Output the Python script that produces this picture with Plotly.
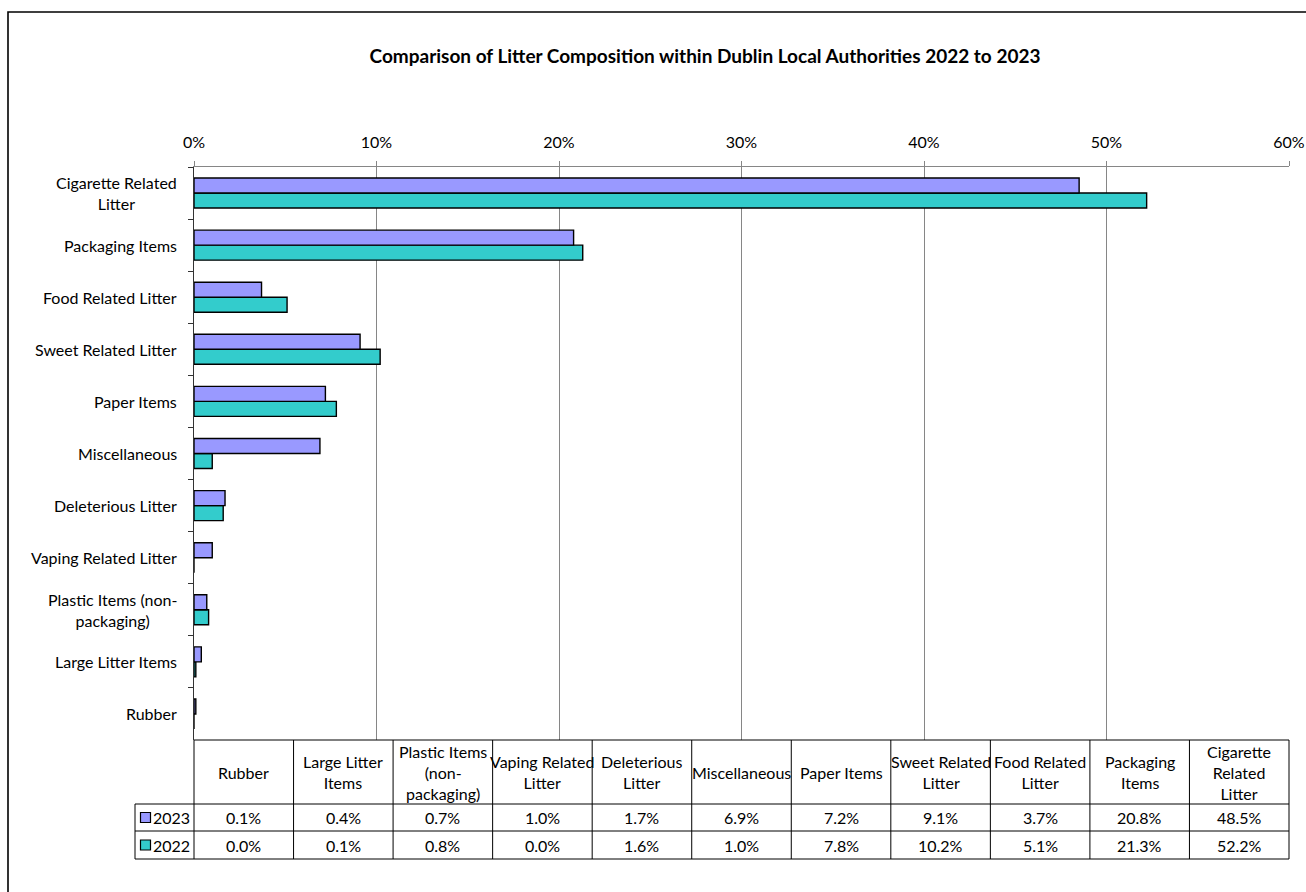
import plotly.graph_objects as go

W, H = 1306, 892
FONT = "Lato"
FS = 16

# ---------------- data ----------------
categories = [
    "Rubber", "Large Litter Items", "Plastic Items (non-packaging)",
    "Vaping Related Litter", "Deleterious Litter", "Miscellaneous",
    "Paper Items", "Sweet Related Litter", "Food Related Litter",
    "Packaging Items", "Cigarette Related Litter",
]
axis_labels = [
    "Rubber", "Large Litter Items", "Plastic Items (non-<br>packaging)",
    "Vaping Related Litter", "Deleterious Litter", "Miscellaneous",
    "Paper Items", "Sweet Related Litter", "Food Related Litter",
    "Packaging Items", "Cigarette Related<br>Litter",
]
table_labels = [
    "Rubber", "Large Litter<br>Items", "Plastic Items<br>(non-<br>packaging)",
    "Vaping Related<br>Litter", "Deleterious<br>Litter", "Miscellaneous",
    "Paper Items", "Sweet Related<br>Litter", "Food Related<br>Litter",
    "Packaging<br>Items", "Cigarette<br>Related<br>Litter",
]
values_2023 = [0.1, 0.4, 0.7, 1.0, 1.7, 6.9, 7.2, 9.1, 3.7, 20.8, 48.5]
values_2022 = [0.0, 0.1, 0.8, 0.0, 1.6, 1.0, 7.8, 10.2, 5.1, 21.3, 52.2]
series_names = ["2023", "2022"]
series_colors = ["#9999FF", "#33CCCC"]
x_ticks = [0, 10, 20, 30, 40, 50, 60]
grid_ticks = [10, 20, 30, 40, 50]
title_text = "Comparison of Litter Composition within Dublin Local Authorities 2022 to 2023"

# ---------------- layout geometry (pixels) ----------------
PL, PR, PT, PB = 194, 1289, 167, 740        # plot area
TL, TB = 135, 859                            # table left / bottom
HEAD_B, ROW1_B = 804, 831                    # header bottom, first row bottom
PAD = 4


def fx(p):
    return p / W


def fy(p):
    return 1 - p / H


ncat = len(categories)
col_px = (PR - PL) / ncat
leg_col = -0.5 - (PL - TL) / col_px
padc = PAD / col_px

fig = go.Figure()

# bars (2022 first so it sits below 2023 in each group)
for name, vals, col in [(series_names[1], values_2022, series_colors[1]),
                        (series_names[0], values_2023, series_colors[0])]:
    fig.add_trace(go.Bar(
        y=categories, x=vals, orientation="h", name=name,
        marker=dict(color=col, line=dict(color="#000000", width=1.4)),
        xaxis="x", yaxis="y", hoverinfo="x+y+name",
    ))

# empty trace for gridline overlay axis
fig.add_trace(go.Scatter(x=[None], y=[None], xaxis="x3", yaxis="y",
                         showlegend=False, hoverinfo="skip"))

shapes = []
annotations = []

# y category labels (centred multi-line)
for cat, lab in zip(categories, axis_labels):
    annotations.append(dict(
        x=fx(179), xref="paper", xanchor="right", y=cat, yref="y",
        yanchor="middle", text=lab, align="center", showarrow=False,
        font=dict(size=FS, color="#000000"),
    ))

# ---------------- data table ----------------
line = dict(color="#000000", width=1)
row_ys = [(HEAD_B + ROW1_B) / 2, (ROW1_B + TB) / 2]
# horizontals
shapes.append(dict(type="line", xref="x2", yref="y2", x0=-0.5, x1=ncat - 0.5,
                   y0=PB, y1=PB, line=line))
for yy in [HEAD_B, ROW1_B, TB]:
    shapes.append(dict(type="line", xref="x2", yref="y2", x0=leg_col,
                       x1=ncat - 0.5, y0=yy, y1=yy, line=line))
# verticals
shapes.append(dict(type="line", xref="x2", yref="y2", x0=leg_col, x1=leg_col,
                   y0=HEAD_B, y1=TB, line=line))
for k in range(ncat + 1):
    shapes.append(dict(type="line", xref="x2", yref="y2", x0=k - 0.5,
                       x1=k - 0.5, y0=PB, y1=TB, line=line))

for i, lab in enumerate(table_labels):
    annotations.append(dict(
        x=i, xref="x2", y=(PB + HEAD_B) / 2, yref="y2", text=lab,
        align="center", showarrow=False, xanchor="center", yanchor="middle",
        font=dict(size=FS, color="#000000"),
    ))
for vals, yy in [(values_2023, row_ys[0]), (values_2022, row_ys[1])]:
    for i, v in enumerate(vals):
        annotations.append(dict(
            x=i, xref="x2", y=yy, yref="y2", text=f"{v:.1f}%",
            showarrow=False, xanchor="center", yanchor="middle",
            font=dict(size=FS, color="#000000"),
        ))

# legend keys in table
sq_x = leg_col + (145.5 - TL) / col_px
txt_x = leg_col + (151 - TL) / col_px
for name, col, yy in zip(series_names, series_colors, row_ys):
    fig.add_trace(go.Scatter(
        x=[sq_x], y=[yy], xaxis="x2", yaxis="y2", mode="markers",
        marker=dict(symbol="square", size=10, color=col,
                    line=dict(color="#000000", width=1.2)),
        cliponaxis=False, showlegend=False, hoverinfo="skip",
    ))
    annotations.append(dict(
        x=txt_x, xref="x2", y=yy, yref="y2", text=name, showarrow=False,
        xanchor="left", yanchor="middle", font=dict(size=FS, color="#000000"),
    ))

# outer chart border
shapes.append(dict(type="rect", xref="paper", yref="paper",
                   x0=fx(8), x1=fx(1330), y0=fy(920), y1=fy(12),
                   line=dict(color="#000000", width=1.6), layer="above"))

fig.update_layout(
    width=W, height=H,
    margin=dict(l=0, r=0, t=0, b=0, autoexpand=False),
    paper_bgcolor="#ffffff", plot_bgcolor="rgba(0,0,0,0)",
    template="none",
    font=dict(family=FONT, size=FS, color="#000000"),
    showlegend=False,
    barmode="group", bargap=0.424, bargroupgap=0,
    title=dict(text=title_text, x=705 / W, xanchor="center",
               y=fy(56), yanchor="middle",
               font=dict(family=FONT, size=19, color="#000000", weight="bold")),
    xaxis=dict(
        domain=[fx(PL), fx(PR)], anchor="y", side="top", range=[0, 60],
        tickvals=x_ticks, ticktext=[f"{t}%" for t in x_ticks],
        ticks="outside", ticklen=5, tickcolor="#868686", tickwidth=1,
        ticklabelstandoff=7,
        showline=True, linecolor="#868686", linewidth=1,
        showgrid=False, zeroline=False, fixedrange=True,
        tickfont=dict(size=FS, color="#000000"),
    ),
    xaxis3=dict(
        overlaying="x", anchor="y", side="top", range=[0, 60],
        tickvals=grid_ticks, showgrid=True, gridcolor="#868686", gridwidth=1,
        showticklabels=False, ticks="", showline=False, zeroline=False,
    ),
    yaxis=dict(
        domain=[fy(PB), fy(PT)], anchor="x", type="category",
        categoryorder="array", categoryarray=categories,
        range=[-0.5, ncat - 0.5], showticklabels=False,
        ticks="outside", tickson="boundaries", ticklen=5,
        tickcolor="#333333", showline=True, linecolor="#333333",
        linewidth=1, showgrid=False, zeroline=False, fixedrange=True,
    ),
    xaxis2=dict(
        domain=[fx(TL - PAD), fx(PR + PAD)], anchor="y2",
        range=[leg_col - padc, ncat - 0.5 + padc],
        visible=False, fixedrange=True,
    ),
    yaxis2=dict(
        domain=[fy(TB + PAD), fy(PB - PAD)], anchor="x2",
        range=[TB + PAD, PB - PAD], visible=False, fixedrange=True,
    ),
    shapes=shapes,
    annotations=annotations,
)

fig.write_html("out.html",
               config={"displayModeBar": False},
               post_script="document.body.style.margin='0';"
                           "document.body.style.overflow='hidden';")
